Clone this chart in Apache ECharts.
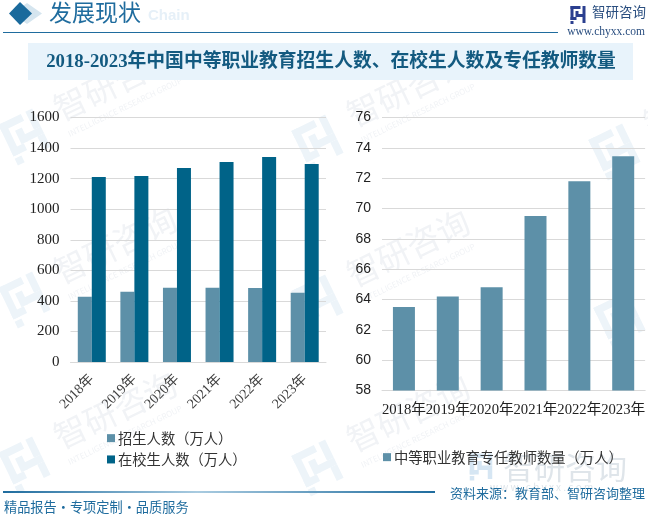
<!DOCTYPE html>
<html>
<head>
<meta charset="utf-8">
<script src="https://cdn.jsdelivr.net/npm/echarts@6/dist/echarts.min.js"></script>
<style>
  html, body { margin: 0; padding: 0; background: #fff; }
  #main { width: 648px; height: 514px; }
</style>
</head>
<body>
<div id="main"></div>
<script>
const YEARS = ['2018年', '2019年', '2020年', '2021年', '2022年', '2023年'];
const ENROLL = [427, 459, 486, 486, 484, 453];
const STUDENTS = [1210, 1217, 1269, 1308, 1341, 1295];
const TEACHERS = [63.5, 64.2, 64.8, 69.5, 71.8, 73.45];
const LEFT_TICKS = { min: 0, max: 1600, interval: 200 };
const RIGHT_TICKS = { min: 58, max: 76, interval: 2 };
const UNIT = '\uFF08万人\uFF09';
const NAME_ENROLL = '招生人数' + UNIT;
const NAME_STUDENTS = '在校生人数' + UNIT;
const NAME_TEACHERS = '中等职业教育专任教师数量' + UNIT;
const TITLE = '2018-2023年中国中等职业教育招生人数、在校生人数及专任教师数量';
const SOURCE = '资料来源\uFF1A教育部、智研咨询整理';
const SLOGAN = '精品报告·专项定制·品质服务';

const LIGHT = '#5d90a8';
const DARK = '#006388';
const SERIF = '"Liberation Serif", "Noto Sans CJK SC", serif';
const CJK = '"Noto Sans CJK SC", sans-serif';

var myChart = echarts.init(document.getElementById('main'), null, { renderer: 'canvas' });

// logo made of a few blocks, centred on x,y
function logoMark(x, y, s, color, rotation, z) {
  const blocks = [[0, 0, 10, 3], [0, 0, 3, 14], [0, 11, 6, 3], [5, 5, 3, 6], [12, 0, 3, 8], [7, 8, 8, 3], [12, 11, 3, 6], [0, 15, 3, 3]];
  return {
    type: 'group', x: x, y: y, rotation: rotation || 0, scaleX: s, scaleY: s, silent: true,
    children: blocks.map(b => ({ type: 'rect', z: z || 0, shape: { x: b[0] - 7.5, y: b[1] - 9, width: b[2], height: b[3] }, style: { fill: color } }))
  };
}
function watermark(x, y) {
  return [
    logoMark(x, y, 2.5, '#edf4f9', 0.45, -10),
    { type: 'text', z: -10, silent: true, x: x + 90, y: y - 55, rotation: 0.45, style: { text: '智研咨询', align: 'center', verticalAlign: 'middle', font: '33px ' + CJK, fill: '#f1f3f6' } },
    { type: 'text', z: -10, silent: true, x: x + 100, y: y - 30, rotation: 0.45, style: { text: 'INTELLIGENCE RESEARCH GROUP', align: 'center', verticalAlign: 'middle', font: '8px ' + CJK, fill: '#f1f3f6' } }
  ];
}
const marks = [[25, 137], [25, 300], [25, 465], [318, 143], [318, 303], [318, 468], [615, 152], [620, 320]];

let option = {
  backgroundColor: '#fff',
  animation: false,
  grid: [
    { left: 70.5, right: 322, top: 117.5, height: 244.5 },
    { left: 382, right: 0, top: 117.5, height: 273 }
  ],
  legend: [
    {
      left: 102, top: 426, orient: 'vertical', itemWidth: 8, itemHeight: 8, itemGap: 7, icon: 'rect',
      data: [NAME_ENROLL, NAME_STUDENTS],
      textStyle: { fontFamily: CJK, fontSize: 14.3, color: '#333', padding: [0, 0, 0, -2] }
    },
    {
      left: 378, top: 445, itemWidth: 8, itemHeight: 8, icon: 'rect',
      data: [NAME_TEACHERS],
      textStyle: { fontFamily: CJK, fontSize: 14.3, color: '#333', padding: [0, 0, 0, -2] }
    }
  ],
  xAxis: [
    {
      type: 'category', gridIndex: 0, data: YEARS,
      axisLine: { lineStyle: { color: '#d9d9d9' } },
      axisTick: { show: false },
      axisLabel: { interval: 0, rotate: 45, margin: 15, fontFamily: SERIF, fontSize: 14, color: '#404040' }
    },
    {
      type: 'category', gridIndex: 1, data: YEARS,
      axisLine: { lineStyle: { color: '#d9d9d9' } },
      axisTick: { show: false },
      axisLabel: { interval: 0, margin: 12, fontFamily: SERIF, fontSize: 14.7, color: '#222' }
    }
  ],
  yAxis: [
    {
      type: 'value', gridIndex: 0, ...LEFT_TICKS,
      axisLine: { show: false }, axisTick: { show: false },
      splitLine: { lineStyle: { color: '#d9d9d9' } },
      axisLabel: { margin: 11, padding: [4, 0, 0, 0], fontFamily: SERIF, fontSize: 15, color: '#222', formatter: v => String(v) }
    },
    {
      type: 'value', gridIndex: 1, ...RIGHT_TICKS,
      axisLine: { show: false }, axisTick: { show: false },
      splitLine: { lineStyle: { color: '#d9d9d9' } },
      axisLabel: { margin: 11, padding: [4, 0, 0, 0], fontFamily: '"Liberation Sans", sans-serif', fontSize: 14, color: '#222' }
    }
  ],
  series: [
    { name: NAME_ENROLL, type: 'bar', xAxisIndex: 0, yAxisIndex: 0, data: ENROLL, barWidth: 14, barGap: 0, itemStyle: { color: LIGHT } },
    { name: NAME_STUDENTS, type: 'bar', xAxisIndex: 0, yAxisIndex: 0, data: STUDENTS, barWidth: 14, barGap: 0, itemStyle: { color: DARK } },
    { name: NAME_TEACHERS, type: 'bar', xAxisIndex: 1, yAxisIndex: 1, data: TEACHERS, barWidth: 22, itemStyle: { color: LIGHT } }
  ],
  graphic: [
    // faint watermarks behind the plots
    ...marks.flatMap(m => watermark(m[0], m[1])),
    // header
    { type: 'polygon', z: -5, shape: { points: [[27, 3], [42, 13.5], [27, 24], [12, 13.5]] }, style: { fill: '#d5e5ef' } },
    { type: 'polygon', z: -5, shape: { points: [[20, 2], [32, 13.5], [20, 25], [9, 13.5]] }, style: { fill: '#1a6a9c' } },
    { type: 'text', z: -5, x: 49, y: 1, style: { text: '发展现状', font: '23px ' + CJK, fill: '#1f6c9e' } },
    { type: 'text', z: -6, x: 148, y: 8, style: { text: 'Chain', font: 'bold 15px "Liberation Sans", sans-serif', fill: '#e6f0f8' } },
    { type: 'rect', z: -5, shape: { x: 3, y: 32, width: 555, height: 1 }, style: { fill: '#1f6c9e' } },
    logoMark(578, 15, 1, '#2b3f8f', 0, -5),
    { type: 'text', z: -5, x: 592, y: 5, style: { text: '智研咨询', font: '13.5px ' + CJK, fill: '#2b4f80' } },
    { type: 'text', z: -5, x: 645, y: 26, style: { text: 'www.chyxx.com', align: 'right', font: '11.5px ' + SERIF, fill: '#2b4f80' } },
    // title band
    { type: 'rect', z: -5, shape: { x: 28, y: 43, width: 605, height: 37 }, style: { fill: '#e8f3fb' } },
    { type: 'text', z: -4, x: 331, y: 62.5, style: { text: TITLE, align: 'center', verticalAlign: 'middle', font: 'bold 18.8px ' + SERIF, fill: '#135a80' } },
    // footer
    { type: 'text', z: -6, x: 503, y: 467, style: { text: '智研咨询', verticalAlign: 'middle', font: '31px ' + CJK, fill: '#dfe5ea' } },
    logoMark(481, 467, 1.5, '#d6e6f3', 0, -6),
    { type: 'text', z: -6, x: 490, y: 487, style: { text: 'w w w . c h y x x . c o m', verticalAlign: 'middle', font: '10px ' + CJK, fill: '#dfe5ea' } },
    {
      type: 'rect', z: -5, shape: { x: 3, y: 491, width: 432, height: 2 },
      style: {
        fill: new echarts.graphic.LinearGradient(0, 0, 1, 0, [
          { offset: 0, color: '#1f6c9e' }, { offset: 0.45, color: '#a9cbe0' }, { offset: 1, color: '#1f6c9e' }
        ])
      }
    },
    { type: 'text', z: -4, x: 4, y: 507, style: { text: SLOGAN, verticalAlign: 'middle', font: '13.2px ' + CJK, fill: '#1f6c9e' } },
    { type: 'text', z: -4, x: 645, y: 493, style: { text: SOURCE, align: 'right', verticalAlign: 'middle', font: '13px ' + CJK, fill: '#1f6c9e' } }
  ]
};
option && myChart.setOption(option);
</script>
</body>
</html>
